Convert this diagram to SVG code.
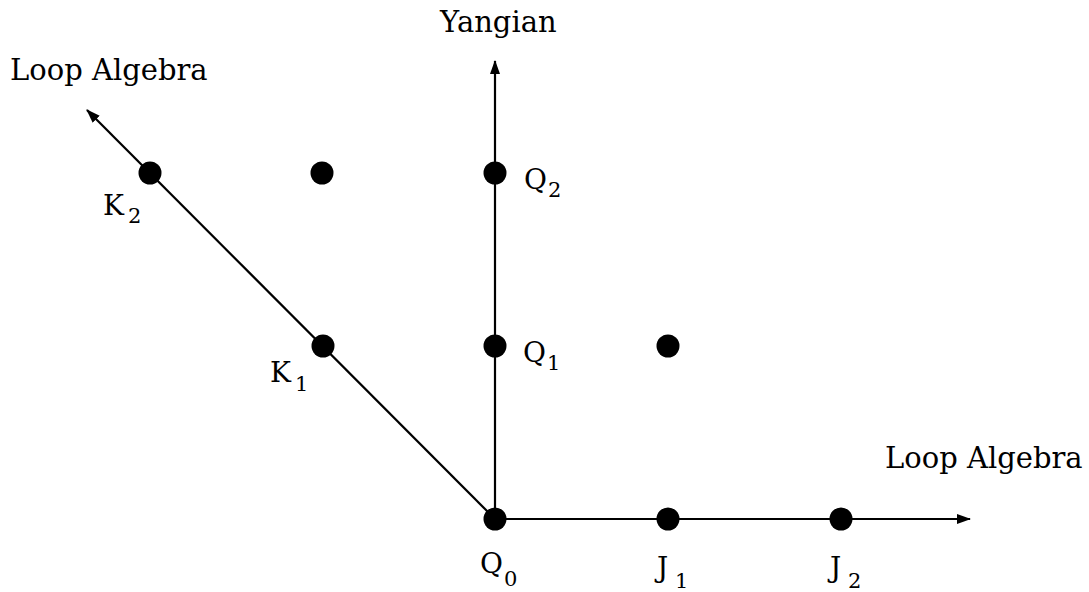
<svg xmlns="http://www.w3.org/2000/svg" width="1089" height="592" viewBox="0 0 1089 592">
<style>
.t{font-family:"DejaVu Serif","Liberation Serif",serif;font-size:28px;fill:#000}
.a{font-family:"DejaVu Serif","Liberation Serif",serif;font-size:29px;fill:#000}
.s{font-family:"DejaVu Serif","Liberation Serif",serif;font-size:21px;fill:#000}
.ax{stroke:#000;stroke-width:2.2;fill:none}
.dot{fill:#000}
</style>
<defs>
<marker id="ah" viewBox="0 0 14 10" refX="13" refY="5" markerWidth="14" markerHeight="10" markerUnits="userSpaceOnUse" orient="auto">
<path d="M0,0 L14,5 L0,10 Z" fill="#000"/>
</marker>
</defs>
<rect width="1089" height="592" fill="#fff"/>
<g id="connectors">
<line class="ax" x1="495" y1="519" x2="970" y2="519" marker-end="url(#ah)"/>
<line class="ax" x1="495" y1="519" x2="495" y2="61" marker-end="url(#ah)"/>
<line class="ax" x1="495" y1="519" x2="87" y2="110" marker-end="url(#ah)"/>
</g>
<g id="axis-labels">
<text class="a" x="440" y="32">Yangian</text>
<text class="a" x="10" y="80">Loop Algebra</text>
<text class="a" x="885" y="468">Loop Algebra</text>
</g>
<g id="Q0"><circle class="dot" cx="495" cy="519" r="11.5"/><text class="t" x="480" y="573">Q</text><text class="s" x="504" y="586">0</text></g>
<g id="Q1"><circle class="dot" cx="495" cy="346" r="11.5"/><text class="t" x="523" y="362">Q</text><text class="s" x="547" y="370">1</text></g>
<g id="Q2"><circle class="dot" cx="495" cy="173" r="11.5"/><text class="t" x="524" y="189">Q</text><text class="s" x="548" y="197">2</text></g>
<g id="K1"><circle class="dot" cx="323" cy="346" r="11.5"/><text class="t" x="270" y="382">K</text><text class="s" x="295" y="391">1</text></g>
<g id="K2"><circle class="dot" cx="150" cy="173" r="11.5"/><text class="t" x="103" y="215">K</text><text class="s" x="128" y="223">2</text></g>
<g id="P12"><circle class="dot" cx="322" cy="173" r="11.5"/></g>
<g id="P21"><circle class="dot" cx="668" cy="346" r="11.5"/></g>
<g id="J1"><circle class="dot" cx="668" cy="519" r="11.5"/><text class="t" x="657" y="577">J</text><text class="s" x="675" y="588">1</text></g>
<g id="J2"><circle class="dot" cx="841" cy="519" r="11.5"/><text class="t" x="830" y="577">J</text><text class="s" x="848" y="588">2</text></g>
</svg>
